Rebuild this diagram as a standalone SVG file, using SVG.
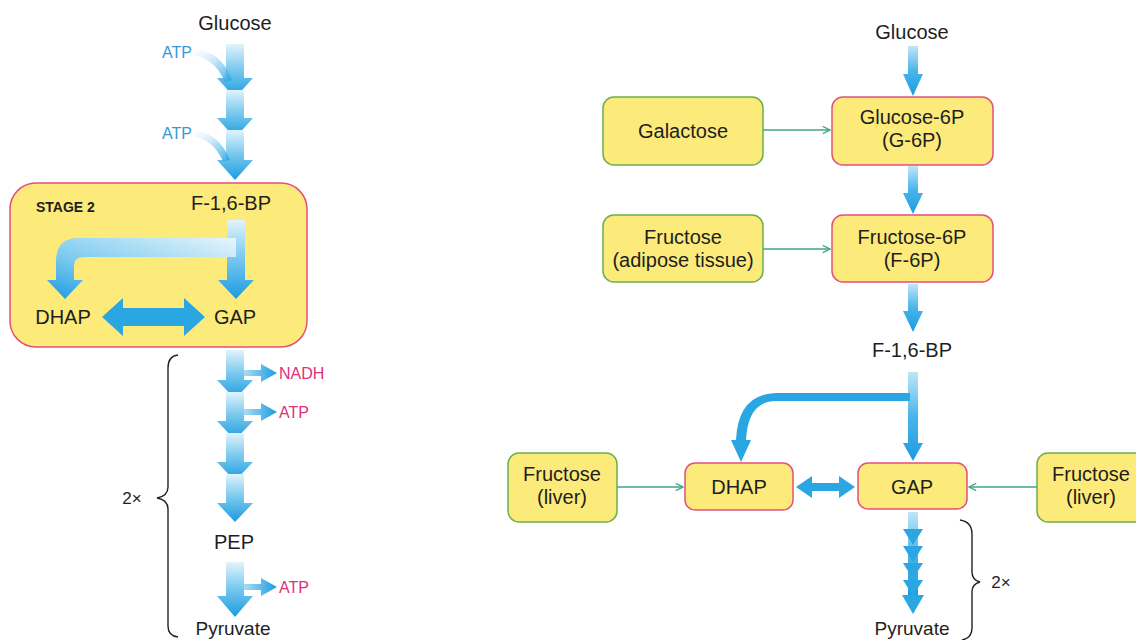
<svg xmlns="http://www.w3.org/2000/svg" width="1136" height="640" viewBox="0 0 1136 640">
<defs>
<linearGradient id="gV" x1="0" y1="0" x2="0" y2="1">
<stop offset="0" stop-color="#e2f4fc"/>
<stop offset="0.45" stop-color="#7fcbef"/>
<stop offset="1" stop-color="#1b9be0"/>
</linearGradient>
<linearGradient id="gVs" x1="0" y1="0" x2="0" y2="1">
<stop offset="0" stop-color="#bfe6f8"/>
<stop offset="0.5" stop-color="#49b5ea"/>
<stop offset="1" stop-color="#1b9be0"/>
</linearGradient>
<linearGradient id="gIn" x1="0" y1="0" x2="1" y2="1">
<stop offset="0" stop-color="#ffffff" stop-opacity="0.2"/>
<stop offset="1" stop-color="#2aa3e2"/>
</linearGradient>
<linearGradient id="gOut" x1="0" y1="0" x2="1" y2="0">
<stop offset="0" stop-color="#a9dcf5"/>
<stop offset="1" stop-color="#1b9be0"/>
</linearGradient>
<linearGradient id="gBar" x1="1" y1="0" x2="0" y2="1">
<stop offset="0" stop-color="#e6f5fc"/>
<stop offset="0.6" stop-color="#7fcbef"/>
<stop offset="1" stop-color="#1b9be0"/>
</linearGradient>
<marker id="ah" viewBox="0 0 10 10" refX="9" refY="5" markerWidth="9" markerHeight="9" orient="auto" markerUnits="userSpaceOnUse">
<path d="M1,1 L9,5 L1,9" fill="none" stroke="#3fa58a" stroke-width="1.4"/>
</marker>
<style>
text{font-family:"Liberation Sans",Arial,sans-serif;fill:#1e1e1e;text-anchor:middle;}
.t{font-size:20px;}
.b{font-size:14px;font-weight:bold;text-anchor:start;}
.atp{font-size:16px;fill:#3399d6;text-anchor:start;}
.mg{font-size:16px;fill:#e0307a;text-anchor:start;}
.sm{font-size:17px;}
.red{fill:#fcea7a;stroke:#e3507a;stroke-width:1.5;}
.grn{fill:#fcea7a;stroke:#6ab04c;stroke-width:1.5;}
.ln{stroke:#3fa58a;stroke-width:1.5;fill:none;marker-end:url(#ah);}
.br{fill:none;stroke:#222;stroke-width:1.4;}
.arr{fill:url(#gV);}
.arrs{fill:url(#gVs);}
.solid{fill:#2aa6e2;}
</style>
</defs>

<!-- LEFT PANEL -->
<g id="stage2">
<rect x="10" y="183" width="297" height="164" rx="26" class="red"/>
<text class="b" x="36" y="212">STAGE 2</text>
</g>
<g id="l-glucose"><text class="t" x="235" y="30">Glucose</text></g>
<g id="l-atp1"><text class="atp" x="162" y="58">ATP</text></g>
<g id="l-atp2"><text class="atp" x="162" y="139">ATP</text></g>
<g id="l-f16bp"><text class="t" x="231" y="210">F-1,6-BP</text></g>
<g id="l-dhap"><text class="t" x="63" y="324">DHAP</text></g>
<g id="l-gap"><text class="t" x="235" y="324">GAP</text></g>
<g id="l-nadh"><text class="mg" x="279" y="379">NADH</text></g>
<g id="l-atp3"><text class="mg" x="279" y="418">ATP</text></g>
<g id="l-pep"><text class="t" x="234" y="549">PEP</text></g>
<g id="l-atp4"><text class="mg" x="279" y="593">ATP</text></g>
<g id="l-pyruvate"><text class="t" x="233" y="635" style="font-size:19px">Pyruvate</text></g>
<g id="l-2x"><text class="sm" x="132" y="504">2×</text></g>

<!-- RIGHT PANEL -->
<g id="r-glucose"><text class="t" x="912" y="39">Glucose</text></g>
<g id="r-g6p">
<rect x="832" y="97" width="161" height="68" rx="11" class="red"/>
<text class="t" x="912" y="124">Glucose-6P</text>
<text class="t" x="912" y="147">(G-6P)</text>
</g>
<g id="r-galactose">
<rect x="603" y="97" width="160" height="68" rx="11" class="grn"/>
<text class="t" x="683" y="138">Galactose</text>
</g>
<g id="r-f6p">
<rect x="832" y="215" width="161" height="67" rx="11" class="red"/>
<text class="t" x="912" y="244">Fructose-6P</text>
<text class="t" x="912" y="267">(F-6P)</text>
</g>
<g id="r-fructose-adipose">
<rect x="603" y="215" width="160" height="67" rx="11" class="grn"/>
<text class="t" x="683" y="244">Fructose</text>
<text class="t" x="683" y="267">(adipose tissue)</text>
</g>
<g id="r-f16bp"><text class="t" x="912" y="357">F-1,6-BP</text></g>
<g id="r-dhap">
<rect x="685" y="463" width="108" height="47" rx="10" class="red"/>
<text class="t" x="739" y="494">DHAP</text>
</g>
<g id="r-gap">
<rect x="858" y="463" width="109" height="46" rx="10" class="red"/>
<text class="t" x="912" y="494">GAP</text>
</g>
<g id="r-fructose-liver-l">
<rect x="508" y="453" width="109" height="69" rx="11" class="grn"/>
<text class="t" x="562" y="481">Fructose</text>
<text class="t" x="562" y="504">(liver)</text>
</g>
<g id="r-fructose-liver-r">
<rect x="1037" y="453" width="109" height="69" rx="11" class="grn"/>
<text class="t" x="1091" y="481">Fructose</text>
<text class="t" x="1091" y="504">(liver)</text>
</g>
<g id="r-pyruvate"><text class="t" x="912" y="635" style="font-size:19px">Pyruvate</text></g>
<g id="r-2x"><text class="sm" x="1001" y="588">2×</text></g>

<g id="connectors">
<!-- left top arrows -->
<path class="arr" d="M226,44 L244,44 L244,78 L253,78 L235,98 L217,78 L226,78 Z"/>
<path class="arr" d="M226,90 L244,90 L244,118 L253,118 L235,138 L217,118 L226,118 Z"/>
<path class="arr" d="M226,130 L244,130 L244,160 L253,160 L235,180 L217,160 L226,160 Z"/>
<path fill="url(#gIn)" d="M190,50 C208,48 224,58 232,80 L225,82 C218,65 205,56 190,55 Z"/>
<path fill="url(#gIn)" d="M190,131 C208,130 222,140 230,160 L223,161 C216,146 205,137 190,136 Z"/>
<!-- stage 2 arrows -->
<path class="arr" d="M227,220 L245,220 L245,280 L254,280 L236,299 L218,280 L227,280 Z"/>
<path fill="url(#gBar)" d="M236,238 L78,238 Q56,238 56,262 L56,280 L47,280 L65,299 L83,280 L74,280 L74,266 Q74,257 84,257 L236,257 Z"/>
<path class="solid" d="M102,317 L123,298 L123,308 L184,308 L184,298 L205,317 L184,336 L184,326 L123,326 L123,336 Z"/>
<!-- left lower arrows -->
<path class="arr" d="M226,350 L244,350 L244,380 L253,380 L235,399 L217,380 L226,380 Z"/>
<path class="arr" d="M226,392 L244,392 L244,421 L253,421 L235,440 L217,421 L226,421 Z"/>
<path class="arr" d="M226,433 L244,433 L244,462 L253,462 L235,481 L217,462 L226,462 Z"/>
<path class="arr" d="M226,474 L244,474 L244,503 L253,503 L235,522 L217,503 L226,503 Z"/>
<path class="arr" d="M226,562 L244,562 L244,596 L253,596 L235,617 L217,596 L226,596 Z"/>
<path fill="url(#gOut)" d="M244,370 L261,370 L261,364 L277,373 L261,382 L261,376 L244,376 Z"/>
<path fill="url(#gOut)" d="M244,409 L261,409 L261,403 L277,412 L261,421 L261,415 L244,415 Z"/>
<path fill="url(#gOut)" d="M244,584 L261,584 L261,578 L277,587 L261,596 L261,590 L244,590 Z"/>
<path class="br" d="M178,355 Q168,356 168,368 L168,487 Q168,496 157,498 Q168,500 168,509 L168,626 Q168,636 178,637"/>
<!-- right arrows -->
<path class="arrs" d="M908,46 L918,46 L918,74 L923,74 L913,96 L903,74 L908,74 Z"/>
<path class="arrs" d="M908,166 L918,166 L918,193 L923,193 L913,214 L903,193 L908,193 Z"/>
<path class="arrs" d="M908,284 L918,284 L918,311 L923,311 L913,332 L903,311 L908,311 Z"/>
<path class="arrs" d="M908,372 L918,372 L918,443 L923,443 L913,461 L903,443 L908,443 Z"/>
<path class="solid" d="M910,393 L776,393 Q738,394 736,440 L731,440 L741,462 L751,440 L746,440 Q748,401 776,401 L910,401 Z"/>
<path class="solid" d="M796,487 L812,476 L812,483 L839,483 L839,476 L855,487 L839,498 L839,491 L812,491 L812,498 Z"/>
<path class="arrs" d="M908,512 L918,512 L918,598 L908,598 Z"/>
<path class="solid" d="M903,529 L913,545 L923,529 L918,529 L908,529 Z M903,546 L913,562 L923,546 Z M903,563 L913,579 L923,563 Z M903,580 L913,596 L923,580 Z M902,595 L913,614 L924,595 Z"/>
<path class="br" d="M960,520 Q972,522 972,534 L972,572 Q972,580 980,582 Q972,584 972,592 L972,628 Q972,638 962,640"/>
<!-- green feeder arrows -->
<line class="ln" x1="763" y1="130" x2="830" y2="130"/>
<line class="ln" x1="763" y1="249" x2="830" y2="249"/>
<line class="ln" x1="617" y1="487" x2="683" y2="487"/>
<line class="ln" x1="1037" y1="487" x2="969" y2="487"/>
</g>
</svg>
